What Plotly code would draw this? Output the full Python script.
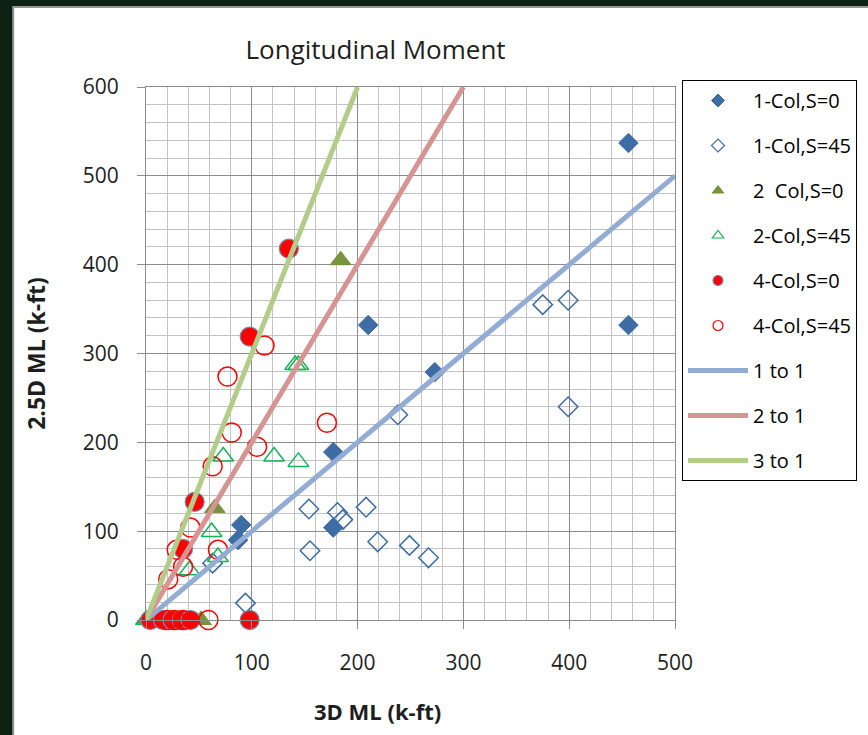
import plotly.graph_objects as go

# ---- data ----
col1_s0_x = [90, 87, 177, 177, 210, 273, 456, 456]
col1_s0_y = [107, 90, 189, 104, 332, 279, 537, 332]

col1_s45_x = [63, 94, 154, 155, 181, 186, 208, 219, 249, 267, 238, 375, 399, 399]
col1_s45_y = [64, 19, 125, 78, 121, 113, 127, 88, 84, 70, 231, 355, 360, 240]

col2_s0_x = [184, 65, 0, 52]
col2_s0_y = [405, 126, 0, 0]

col2_s45_x = [141, 144, 73, 121, 144, 62, 68, 41, 0]
col2_s45_y = [287, 287, 184, 184, 178, 99, 71, 56, 0]

col4_s0_x = [135, 98, 46, 35, 98, 4, 16, 25, 34, 42]
col4_s0_y = [418, 319, 133, 80, 0, 0, 0, 0, 0, 0]

col4_s45_x = [112, 77, 81, 105, 63, 171, 42, 29, 68, 35, 21, 59, 20, 27, 35]
col4_s45_y = [309, 274, 211, 195, 173, 222, 104, 79, 79, 60, 46, 0, 0, 0, 0]

ratio_names = ["1 to 1", "2 to 1", "3 to 1"]
ratio_x = [[0, 500], [0, 300], [0, 200]]
ratio_y = [[0, 500], [0, 600], [0, 600]]
ratio_colors = ["rgb(146,172,212)", "rgb(214,148,146)", "rgb(178,204,138)"]

x_ticks = [0, 100, 200, 300, 400, 500]
y_ticks = [0, 100, 200, 300, 400, 500, 600]

FONT = "Open Sans, Liberation Sans, sans-serif"
TXT = "rgb(30,30,30)"
BLUE = "rgb(62,108,164)"

fig = go.Figure()

def add_pts(name, xs, ys, symbol, size, color, line_color, line_width):
    mk = dict(symbol=symbol, size=size, color=color,
              line=dict(color=line_color, width=line_width))
    fig.add_trace(go.Scatter(x=xs, y=ys, mode="markers", name=name, legendgroup=name,
                             cliponaxis=False, showlegend=False, marker=mk))
    # legend-only entry with the smaller legend symbol
    lk = dict(mk)
    lk["size"] = 10
    lk["line"] = dict(color=line_color, width=min(line_width, 1.2))
    fig.add_trace(go.Scatter(x=[None], y=[None], mode="markers", name=name,
                             legendgroup=name, showlegend=True, marker=lk))

add_pts("1-Col,S=0", col1_s0_x, col1_s0_y, "diamond", 15, BLUE, BLUE, 1)
add_pts("1-Col,S=45", col1_s45_x, col1_s45_y, "diamond-open", 15, BLUE, BLUE, 1.5)
add_pts("2  Col,S=0", col2_s0_x, col2_s0_y, "triangle-up", 18, "rgb(119,147,60)", "rgb(119,147,60)", 1)
add_pts("2-Col,S=45", col2_s45_x, col2_s45_y, "triangle-up-open", 18, "rgb(20,180,90)", "rgb(20,180,90)", 1.5)
add_pts("4-Col,S=0", col4_s0_x, col4_s0_y, "circle", 19, "rgb(255,0,0)", "rgb(110,140,170)", 1.2)
add_pts("4-Col,S=45", col4_s45_x, col4_s45_y, "circle-open", 19, "rgb(255,0,0)", "rgb(255,40,40)", 1.5)

for nm, xs, ys, c in zip(ratio_names, ratio_x, ratio_y, ratio_colors):
    fig.add_trace(go.Scatter(x=xs, y=ys, mode="lines", name=nm, legendgroup=nm,
                             line=dict(color=c, width=5)))

W, H = 868, 735
L, R, T, B = 146, 192, 87, 115
pw, ph = W - L - R, H - T - B

def px_x(p):
    return (p - L) / pw

def px_y(p):
    return (H - B - p) / ph

fig.update_layout(
    width=W, height=H,
    margin=dict(l=L, r=R, t=T, b=B, pad=0),
    paper_bgcolor="rgb(14,34,20)",
    plot_bgcolor="white",
    font=dict(family=FONT, size=21, color=TXT),
    title=dict(text="Longitudinal Moment", x=px_x(376), xref="paper", xanchor="center",
               y=1 - 50 / H, yref="container", yanchor="middle",
               font=dict(family=FONT, size=26, color=TXT)),
    showlegend=True,
    legend=dict(x=px_x(682), y=px_y(80), xanchor="left", yanchor="top",
                bgcolor="white", bordercolor="black", borderwidth=1,
                font=dict(family=FONT, size=20, color="black"),
                tracegroupgap=16, traceorder="grouped", itemwidth=60,
                maxheight=600, entrywidth=115, entrywidthmode="pixels"),
    shapes=[dict(type="rect", xref="paper", yref="paper", layer="below",
                 x0=px_x(13), x1=px_x(W + 5), y0=px_y(H + 5), y1=px_y(7),
                 fillcolor="white", line=dict(color="rgb(150,150,150)", width=2))],
    annotations=[dict(text="<b>3D ML (k-ft)</b>", xref="paper", yref="paper",
                      x=px_x(378), y=px_y(711), xanchor="center", yanchor="middle",
                      showarrow=False, font=dict(family=FONT, size=22, color=TXT))],
    xaxis=dict(range=[0, 500], tickvals=x_ticks, showgrid=True, gridcolor="rgb(140,140,140)",
               gridwidth=1, zeroline=False, showline=True, linecolor="rgb(140,140,140)",
               mirror=True, ticks="outside", ticklen=8, tickcolor="rgb(140,140,140)",
               ticklabelstandoff=16,
               minor=dict(dtick=20, showgrid=True, gridcolor="rgb(195,195,195)", gridwidth=1)),
    yaxis=dict(range=[0, 600], tickvals=y_ticks, showgrid=True, gridcolor="rgb(140,140,140)",
               gridwidth=1, zeroline=False, showline=True, linecolor="rgb(140,140,140)",
               mirror=True, ticks="outside", ticklen=8, tickcolor="rgb(140,140,140)",
               ticklabelstandoff=14,
               minor=dict(dtick=20, showgrid=True, gridcolor="rgb(195,195,195)", gridwidth=1),
               title=dict(text="<b>2.5D ML (k-ft)</b>", standoff=30,
                          font=dict(family=FONT, size=23, color=TXT))),
)

fig.write_html("out.html", config={"displayModeBar": False},
               post_script="document.body.style.margin='0px';document.body.style.overflow='hidden';")
